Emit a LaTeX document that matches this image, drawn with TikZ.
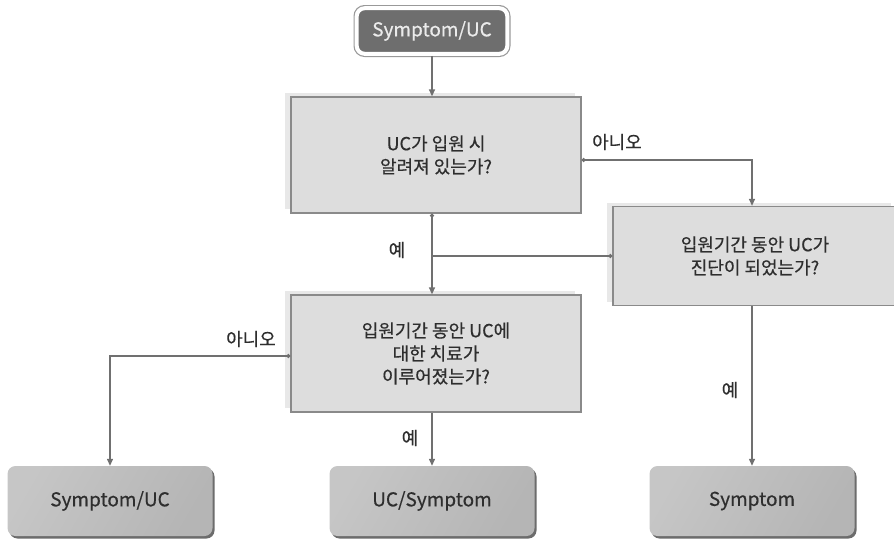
\documentclass[tikz,border=0pt]{standalone}
\usepackage{fontspec}
\setmainfont[FakeBold=0.5]{Noto Sans CJK KR}
\usetikzlibrary{arrows.meta, positioning, shadows}

\definecolor{linegray}{HTML}{707070}
\definecolor{textgray}{HTML}{2E2E2E}
\definecolor{boxfill}{HTML}{DDDDDD}
\definecolor{boxline}{HTML}{8A8A8A}
\definecolor{shadowfill}{HTML}{E8E8E8}
\definecolor{startfill}{HTML}{6E6E6E}

\begin{document}
\begin{tikzpicture}[
        x=1pt, y=-1pt,
        >={Triangle[length=7pt, width=6pt]},
        every node/.style={font=\fontsize{18}{23}\selectfont, text=textgray, align=center},
        startbox/.style={rectangle, rounded corners=8pt, fill=startfill, text=white!92!black,
            draw=white, line width=4pt, preaction={draw=gray!80, line width=6.4pt},
            minimum width=150.6pt, minimum height=45.6pt, font=\fontsize{19}{23}\selectfont},
        question/.style={rectangle, draw=boxline, line width=1.3pt, fill=boxfill,
            general shadow={fill=shadowfill, shadow xshift=-6pt, shadow yshift=4pt}},
        result/.style={rectangle, rounded corners=8pt, minimum width=205pt, minimum height=70pt,
            left color=gray!45, right color=gray!58, shading angle=60,
            font=\fontsize{19}{23}\selectfont,
            drop shadow={shadow xshift=2pt, shadow yshift=-2.5pt, fill=gray!85!black, opacity=1}},
        answer/.style={font=\fontsize{18}{20}\selectfont},
        flow/.style={->, draw=linegray, line width=1.3pt},
        joinline/.style={draw=linegray, line width=1.3pt}
    ]
        \clip (0,0) rectangle (894,542);

        % 노드
        \node[startbox] (start) at (432,31) {Symptom/UC};
        \node[question, minimum width=290pt, minimum height=116pt] (q1) at (436,155)
            {UC가 입원 시\\알려져 있는가?};
        \node[question, minimum width=284pt, minimum height=99pt] (q2) at (755,256)
            {입원기간 동안 UC가\\진단이 되었는가?};
        \node[question, minimum width=290pt, minimum height=117pt] (q3) at (436,353.5)
            {입원기간 동안 UC에\\대한 치료가\\이루어졌는가?};

        \node[result] (res1) at (110,501) {Symptom/UC};
        \node[result] (res2) at (432,501) {UC/Symptom};
        \node[result] (res3) at (752,501) {Symptom};

        % 연결선
        \draw[flow] (start) -- (start |- q1.north);
        \draw[flow, {Circle[length=4pt]}->] ([yshift=-5pt]q1.east) -| (res3 |- q2.north);
        \draw[flow, {Circle[length=4pt]}->] (res2 |- q1.south) -- (res2 |- q3.north);
        \draw[joinline, {Circle[length=4pt]}-] (q2.west) -- (res2 |- q2.west);
        \draw[flow, {Circle[length=4pt]}->] ([yshift=-2.5pt]q3.west) -| (res1.north);
        \draw[flow] (res2 |- q3.south) -- (res2.north);
        \draw[flow] (res3 |- q2.south) -- (res3.north);

        % 라벨
        \node[answer] (no1) at (617,142) {아니오};
        \node[answer] (yes1) at (397,250) {예};
        \node[answer] (no2) at (251,339) {아니오};
        \node[answer] (yes2) at (410,438) {예};
        \node[answer] (yes3) at (730,390) {예};
    \end{tikzpicture}
\end{document}
